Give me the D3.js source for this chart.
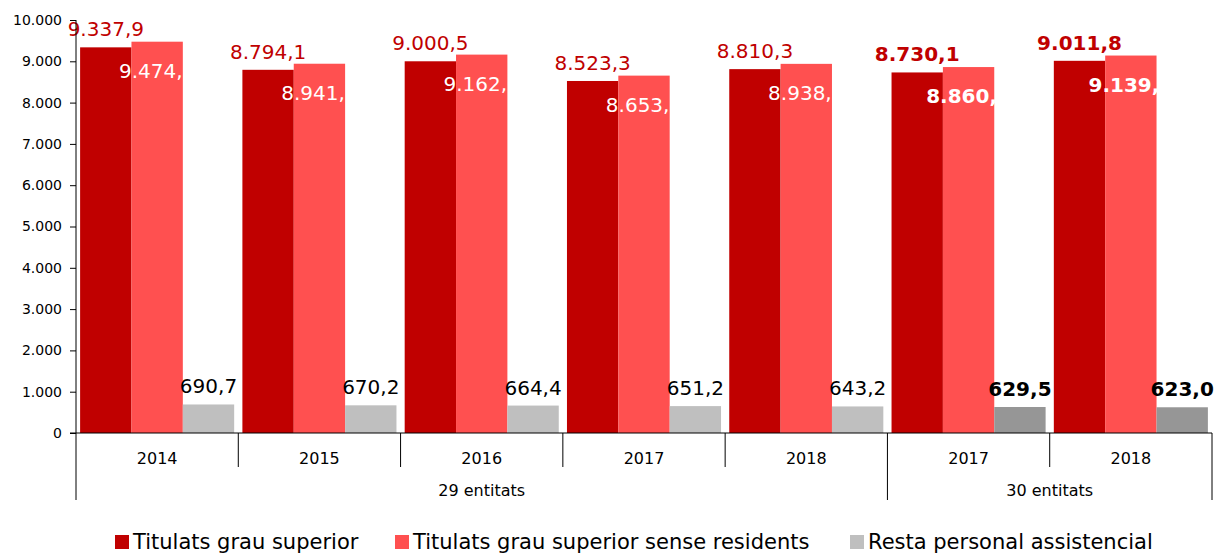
<!DOCTYPE html>
<html>
<head>
<meta charset="utf-8">
<script src="https://cdn.jsdelivr.net/npm/d3@7"></script>
<style>
  body { margin: 0; background: #fff; }
  svg text { font-family: "DejaVu Sans", Verdana, sans-serif; }
</style>
</head>
<body>
<div id="chart"></div>
<script>
// chart data
const years = ['2014', '2015', '2016', '2017', '2018', '2017', '2018'];
const groups = ['29 entitats', '29 entitats', '29 entitats', '29 entitats', '29 entitats', '30 entitats', '30 entitats'];
const titulats = [9337.9, 8794.1, 9000.5, 8523.3, 8810.3, 8730.1, 9011.8];
const senseResidents = [9474.7, 8941.2, 9162.0, 8653.2, 8938.1, 8860.6, 9139.4];
const restaPersonal = [690.7, 670.2, 664.4, 651.2, 643.2, 629.5, 623.0];
const seriesNames = ['Titulats grau superior', 'Titulats grau superior sense residents', 'Resta personal assistencial'];
const yTicks = [0, 1000, 2000, 3000, 4000, 5000, 6000, 7000, 8000, 9000, 10000];

const W = 1218, H = 555;
const mLeft = 76, mRight = 1212, mTop = 20, mBottom = 433;

const loc = d3.formatLocale({decimal: ',', thousands: '.', grouping: [3], currency: ['', '€']});
const fmtTick = loc.format(',.0f');
const fmtVal = loc.format(',.1f');

const svg = d3.select('#chart').append('svg').attr('width', W).attr('height', H);

const idx = d3.range(years.length);
const x = d3.scaleBand().domain(idx).range([mLeft, mRight]).padding(0);
const xs = d3.scaleBand().domain([0, 1, 2]).range([0, x.bandwidth()]).paddingInner(0).paddingOuter(0.08);
const y = d3.scaleLinear().domain([0, 10000]).range([mBottom, mTop]);

const rows = idx.map(i => ({
  i: i, year: years[i], group: groups[i],
  vals: [titulats[i], senseResidents[i], restaPersonal[i]],
  bold: groups[i] === '30 entitats'
}));

// y axis
const yAxis = svg.append('g').attr('transform', `translate(${mLeft},0)`)
  .call(d3.axisLeft(y).tickValues(yTicks).tickFormat(fmtTick).tickSize(6).tickSizeOuter(0));
yAxis.select('.domain').remove();
yAxis.selectAll('.tick line').attr('stroke', '#000');
yAxis.selectAll('.tick text').attr('font-size', 14).attr('fill', '#000')
  .attr('font-family', '"DejaVu Sans", Verdana, sans-serif').attr('x', -14);

// bars
const colors = ['#c00000', '#ff5050'];
const g = svg.selectAll('.grp').data(rows).enter().append('g')
  .attr('transform', d => `translate(${x(d.i)},0)`);

g.each(function(d) {
  const s = d3.select(this);
  d.vals.forEach((v, k) => {
    let fill = k < 2 ? colors[k] : (d.bold ? '#969696' : '#bfbfbf');
    s.append('rect')
      .attr('x', xs(k)).attr('width', xs.bandwidth())
      .attr('y', y(v)).attr('height', y(0) - y(v))
      .attr('fill', fill);
  });
});

// labels
g.each(function(d) {
  const s = d3.select(this);
  const fw = d.bold ? 'bold' : 'normal';
  s.append('text').attr('x', xs(0) + xs.bandwidth() / 2).attr('y', y(d.vals[0]) - 11)
    .attr('text-anchor', 'middle').attr('font-size', 20).attr('font-weight', fw)
    .attr('fill', '#c00000').text(fmtVal(d.vals[0]));
  s.append('text').attr('x', xs(1) + xs.bandwidth() / 2).attr('y', y(d.vals[1]) + 36)
    .attr('text-anchor', 'middle').attr('font-size', 20).attr('font-weight', fw)
    .attr('fill', '#fff').text(fmtVal(d.vals[1]));
  s.append('text').attr('x', xs(2) + xs.bandwidth() / 2).attr('y', y(d.vals[2]) - 11)
    .attr('text-anchor', 'middle').attr('font-size', 20).attr('font-weight', fw)
    .attr('fill', '#000').text(fmtVal(d.vals[2]));
});

// axis lines
svg.append('line').attr('x1', mLeft).attr('x2', mLeft).attr('y1', mTop).attr('y2', mBottom)
  .attr('stroke', '#000');
svg.append('line').attr('x1', mLeft - 6).attr('x2', mRight).attr('y1', mBottom).attr('y2', mBottom)
  .attr('stroke', '#000');

// category axis: year separators and group separators
const groupNames = Array.from(new Set(groups));
const groupSpans = groupNames.map(n => {
  const ii = idx.filter(i => groups[i] === n);
  return {name: n, x0: x(ii[0]), x1: x(ii[ii.length - 1]) + x.bandwidth()};
});
const edges = new Set();
groupSpans.forEach(gs => { edges.add(gs.x0); edges.add(gs.x1); });

idx.slice(1).forEach(i => {
  const xp = x(i);
  if (!edges.has(xp)) {
    svg.append('line').attr('x1', xp).attr('x2', xp).attr('y1', mBottom).attr('y2', mBottom + 34)
      .attr('stroke', '#000');
  }
});
edges.forEach(xp => {
  svg.append('line').attr('x1', xp).attr('x2', xp).attr('y1', mBottom).attr('y2', mBottom + 67)
    .attr('stroke', '#000');
});

svg.selectAll('.yr').data(rows).enter().append('text')
  .attr('x', d => x(d.i) + x.bandwidth() / 2).attr('y', mBottom + 31)
  .attr('text-anchor', 'middle').attr('font-size', 16).attr('fill', '#000')
  .text(d => d.year);

svg.selectAll('.gl').data(groupSpans).enter().append('text')
  .attr('x', d => (d.x0 + d.x1) / 2).attr('y', mBottom + 63)
  .attr('text-anchor', 'middle').attr('font-size', 16).attr('fill', '#000')
  .text(d => d.name);

// legend
const legendX = [115, 395, 850];
const legendCol = ['#c00000', '#ff5050', '#bfbfbf'];
seriesNames.forEach((n, k) => {
  svg.append('rect').attr('x', legendX[k]).attr('y', 535).attr('width', 14).attr('height', 14)
    .attr('fill', legendCol[k]);
  svg.append('text').attr('x', legendX[k] + 18).attr('y', 549)
    .attr('font-size', 21).attr('fill', '#000').text(n);
});
</script>
</body>
</html>
